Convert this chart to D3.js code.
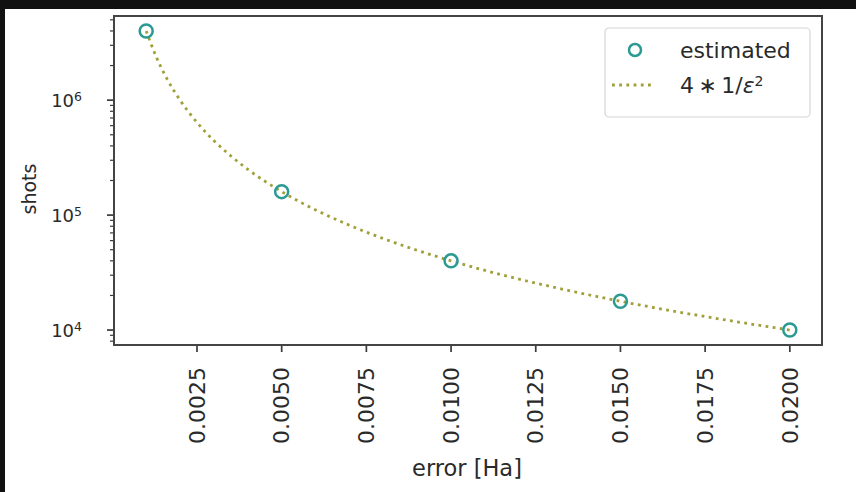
<!DOCTYPE html>
<html>
<head>
<meta charset="utf-8">
<script src="https://cdn.jsdelivr.net/npm/d3@7"></script>
<style>
  body { margin: 0; background: #ffffff; }
  svg { display: block; font-family: "DejaVu Sans", sans-serif; }
</style>
</head>
<body>
<div id="chart"></div>
<script>
// svg size
var width = 856, height = 492;

// plot box
var plotLeft = 114, plotRight = 822, plotTop = 16, plotBottom = 345;

// data - estimated points
var errors = [0.001, 0.005, 0.01, 0.015, 0.02];
var shots = [4000000, 160000, 40000, 17800, 10000];

// data - dotted reference curve (4 * 1/eps^2)
var curveEps = [0.001, 0.0013, 0.0016, 0.002, 0.0025, 0.003, 0.0035, 0.004, 0.005, 0.006, 0.007, 0.008, 0.009, 0.01, 0.0115, 0.013, 0.015, 0.0175, 0.02];
var curveShots = [4000000, 2370000, 1560000, 1000000, 640000, 444000, 327000, 250000, 160000, 111000, 81600, 62500, 49400, 40000, 30200, 23700, 17800, 13100, 10000];

// tick labels
var xTicks = [0.0025, 0.005, 0.0075, 0.01, 0.0125, 0.015, 0.0175, 0.02];
var yTicks = [10000, 100000, 1000000];
var yTickExp = ["4", "5", "6"];

var svg = d3.select("#chart")
            .append("svg")
            .attr("width", width)
            .attr("height", height);

// screenshot border
svg.append("rect").attr("x", 0).attr("y", 0).attr("width", width).attr("height", 9).attr("fill", "#111");
svg.append("rect").attr("x", 0).attr("y", 0).attr("width", 5).attr("height", height).attr("fill", "#111");

// scales (matplotlib style 5% margins)
var xr = d3.extent(errors);
var xpad = (xr[1] - xr[0]) * 0.05;
var x = d3.scaleLinear()
            .domain([xr[0] - xpad, xr[1] + xpad])
            .range([plotLeft, plotRight]);

var ly = d3.extent(shots).map(Math.log10);
var lpad = (ly[1] - ly[0]) * 0.05;
var y = d3.scaleLog()
            .domain([Math.pow(10, ly[0] - lpad), Math.pow(10, ly[1] + lpad)])
            .range([plotBottom, plotTop]);

var tickColor = "#3a3a3a";
var textColor = "#2a2a2a";
var dotColor = "#a0a03a";
var markColor = "#2a9a93";

// x ticks
var gx = svg.append("g").attr("class", "xaxis");
gx.selectAll("line")
    .data(xTicks)
    .enter()
        .append("line")
        .attr("x1", function(d){ return x(d); })
        .attr("x2", function(d){ return x(d); })
        .attr("y1", plotBottom)
        .attr("y2", plotBottom + 7)
        .style("stroke", tickColor)
        .style("stroke-width", 1.7);

gx.selectAll("text")
    .data(xTicks)
    .enter()
        .append("text")
        .attr("transform", function(d){ return "translate(" + x(d) + "," + (plotBottom + 22) + ") rotate(-90)"; })
        .attr("text-anchor", "end")
        .attr("dy", "0.35em")
        .style("font-size", "22px")
        .style("fill", textColor)
        .text(function(d){ return d3.format(".4f")(d); });

// y ticks - major
var gy = svg.append("g").attr("class", "yaxis");
gy.selectAll("line.major")
    .data(yTicks)
    .enter()
        .append("line")
        .attr("class", "major")
        .attr("x1", plotLeft - 7)
        .attr("x2", plotLeft)
        .attr("y1", function(d){ return y(d); })
        .attr("y2", function(d){ return y(d); })
        .style("stroke", tickColor)
        .style("stroke-width", 1.7);

// y ticks - minor
var minor = [];
[1000, 10000, 100000, 1000000].forEach(function(dec){
    for(var k = 2; k < 10; k++){
        var v = k * dec;
        if(v > y.domain()[0] && v < y.domain()[1]) minor.push(v);
    }
});
gy.selectAll("line.minor")
    .data(minor)
    .enter()
        .append("line")
        .attr("class", "minor")
        .attr("x1", plotLeft - 4)
        .attr("x2", plotLeft)
        .attr("y1", function(d){ return y(d); })
        .attr("y2", function(d){ return y(d); })
        .style("stroke", tickColor)
        .style("stroke-width", 1.2);

var ylab = gy.selectAll("text")
    .data(yTicks)
    .enter()
        .append("text")
        .attr("x", 82)
        .attr("y", function(d){ return y(d); })
        .attr("dy", "0.38em")
        .attr("text-anchor", "end")
        .style("font-size", "18px")
        .style("fill", textColor);
ylab.append("tspan").text("10");
ylab.append("tspan")
    .attr("dy", "-0.5em")
    .style("font-size", "12.5px")
    .text(function(d, i){ return yTickExp[i]; });

// axis labels
svg.append("text")
    .attr("transform", "translate(29,189) rotate(-90)")
    .attr("text-anchor", "middle")
    .attr("dy", "0.35em")
    .style("font-size", "19px")
    .style("fill", textColor)
    .text("shots");

svg.append("text")
    .attr("x", (plotLeft + plotRight) / 2 - 1)
    .attr("y", 476)
    .attr("text-anchor", "middle")
    .style("font-size", "22.5px")
    .style("fill", textColor)
    .text("error [Ha]");

// dotted curve
var line = d3.line()
                .x(function(d){ return x(d[0]); })
                .y(function(d){ return y(d[1]); })
                .curve(d3.curveMonotoneX);

svg.append("path")
    .datum(d3.zip(curveEps, curveShots))
    .attr("d", line)
    .attr("fill", "none")
    .attr("stroke", dotColor)
    .attr("stroke-width", 2.8)
    .attr("stroke-dasharray", "2.8,4.4");

// estimated markers
svg.selectAll("circle.pt")
    .data(d3.zip(errors, shots))
    .enter()
        .append("circle")
        .attr("class", "pt")
        .attr("cx", function(d){ return x(d[0]); })
        .attr("cy", function(d){ return y(d[1]); })
        .attr("r", 6.5)
        .attr("fill", "none")
        .attr("stroke", markColor)
        .attr("stroke-width", 2.5);

// frame
svg.append("rect")
    .attr("x", plotLeft)
    .attr("y", plotTop)
    .attr("width", plotRight - plotLeft)
    .attr("height", plotBottom - plotTop)
    .attr("fill", "none")
    .attr("stroke", "#444")
    .attr("stroke-width", 2);

// legend
var lg = svg.append("g").attr("transform", "translate(605,28)");
lg.append("rect")
    .attr("width", 205)
    .attr("height", 89)
    .attr("rx", 4)
    .attr("fill", "#fff")
    .attr("stroke", "#d6d6d6")
    .attr("stroke-width", 1.2);

lg.append("circle")
    .attr("cx", 30)
    .attr("cy", 22)
    .attr("r", 6)
    .attr("fill", "none")
    .attr("stroke", markColor)
    .attr("stroke-width", 2.5);

lg.append("text")
    .attr("x", 75)
    .attr("y", 22)
    .attr("dy", "0.35em")
    .style("font-size", "22px")
    .style("fill", textColor)
    .text("estimated");

lg.append("line")
    .attr("x1", 7)
    .attr("x2", 50)
    .attr("y1", 57)
    .attr("y2", 57)
    .attr("stroke", dotColor)
    .attr("stroke-width", 2.8)
    .attr("stroke-dasharray", "2.8,4.4");

var t2 = lg.append("text")
    .attr("x", 75)
    .attr("y", 57)
    .attr("dy", "0.35em")
    .style("font-size", "22px")
    .style("fill", textColor);
t2.append("tspan").text("4\u2009\u2217\u20091/");
t2.append("tspan").style("font-style", "italic").text("\u03b5");
t2.append("tspan").attr("dy", "-0.5em").style("font-size", "14px").text("2");
</script>
</body>
</html>
